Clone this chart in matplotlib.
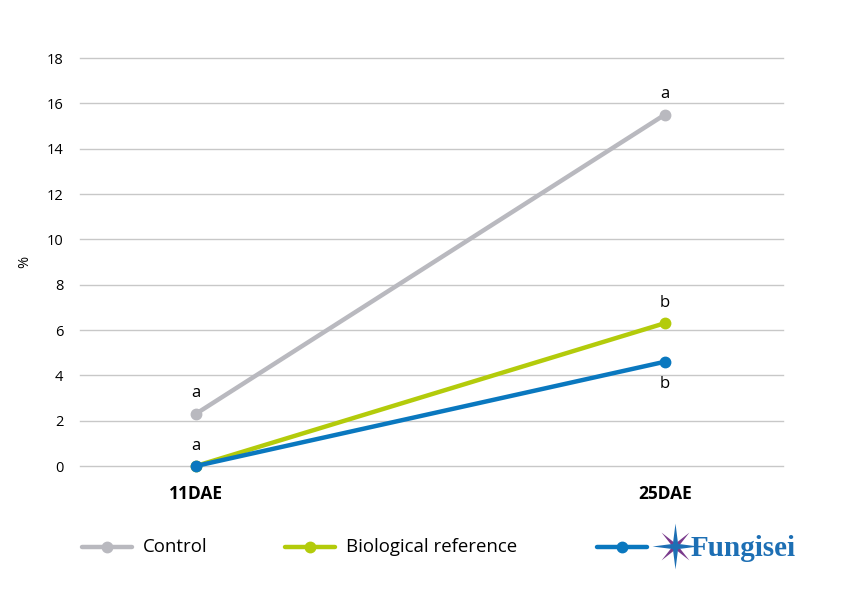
import numpy as np
import matplotlib
matplotlib.use('Agg')
from matplotlib import pyplot as plt
from matplotlib.path import Path

plt.rcParams['font.family'] = ['Open Sans', 'DejaVu Sans']

# data
categories = ['11DAE', '25DAE']
control = [2.3, 15.5]
biological = [0.0, 6.3]
fungisei = [0.0, 4.6]
control_letters = ['a', 'a']
bio_letters = ['', 'b']
fungisei_letters = ['a', 'b']
yticks = list(range(0, 20, 2))

GRAY = '#B9B9BF'
GREEN = '#B3CB0B'
BLUE = '#0A78BF'
LOGO_BLUE = '#1D6FB4'
PURPLE = '#7A3A8C'

fig = plt.figure(figsize=(8.42, 5.95), dpi=100)
ax = fig.add_axes([80 / 842, 1 - 466 / 595, 703 / 842, 408 / 595])

x = np.arange(len(categories))
series = [(control, GRAY), (biological, GREEN), (fungisei, BLUE)]
for vals, col in series:
    ax.plot(x, vals, color=col, lw=3.2, marker='o', ms=7.5, clip_on=False,
            solid_capstyle='round', zorder=3)

ax.set_xlim(-0.247, 1.252)
ax.set_ylim(0, 18)
ax.set_yticks(yticks)
ax.set_xticks(x)
ax.set_xticklabels(categories, fontsize=12.5, fontweight='bold')
ax.tick_params(axis='x', length=0, pad=14)
ax.tick_params(axis='y', length=0, pad=12, labelsize=10.5)
ax.grid(axis='y', color='#C8C8C8', lw=1)
for gl in ax.get_ygridlines():
    gl.set_clip_on(False)
ax.set_axisbelow(True)
for s in ax.spines.values():
    s.set_visible(False)
ax.set_ylabel('%', fontsize=10.5)
ax.yaxis.set_label_coords(-0.068, 0.5)

# significance letters
for i in range(len(categories)):
    ax.annotate(control_letters[i], (x[i], control[i]), xytext=(0, 9),
                textcoords='offset points', ha='center', va='bottom', fontsize=12)
    if bio_letters[i]:
        ax.annotate(bio_letters[i], (x[i], biological[i]), xytext=(0, 9),
                    textcoords='offset points', ha='center', va='bottom', fontsize=12)
for i, lab in enumerate(fungisei_letters):
    if i == 0:
        ax.annotate(lab, (x[i], fungisei[i]), xytext=(0, 9),
                    textcoords='offset points', ha='center', va='bottom', fontsize=12)
    else:
        ax.annotate(lab, (x[i], fungisei[i]), xytext=(0, -10),
                    textcoords='offset points', ha='center', va='top', fontsize=12)

# legend drawn in a pixel-based overlay axes
lax = fig.add_axes([0, 0, 1, 1])
lax.set_xlim(0, 842)
lax.set_ylim(595, 0)
lax.axis('off')
ly = 547
legend_items = [(82, GRAY, 'Control'), (285, GREEN, 'Biological reference'), (597, BLUE, None)]
for x0, col, lab in legend_items:
    lax.plot([x0, x0 + 50], [ly, ly], color=col, lw=3.2, solid_capstyle='round')
    lax.plot([x0 + 25], [ly], 'o', color=col, ms=7.5)
    if lab:
        lax.text(x0 + 61, ly, lab, fontsize=13.4, va='center', ha='left')

# Fungisei logo: compass star + word
def star(n, r_out, r_in, rot=0.0):
    ang = np.linspace(0, 2 * np.pi, 2 * n, endpoint=False) + rot
    r = np.where(np.arange(2 * n) % 2 == 0, r_out, r_in)
    v = np.column_stack([r * np.sin(ang), r * np.cos(ang)])
    return Path(np.vstack([v, v[:1]]), closed=True)

lax.plot([675], [ly - 1], marker=star(4, 1.0, 0.15, np.pi / 4), color=PURPLE, ms=20, mew=0)
lax.plot([675], [ly - 1], marker=star(4, 1.0, 0.16), color=LOGO_BLUE, ms=33, mew=0)
lax.text(691, ly + 1, 'Fungisei', fontsize=21, fontweight='bold', color=LOGO_BLUE,
         family=['Liberation Serif', 'DejaVu Serif'], va='center', ha='left')

fig.savefig('out.png', dpi=100)
